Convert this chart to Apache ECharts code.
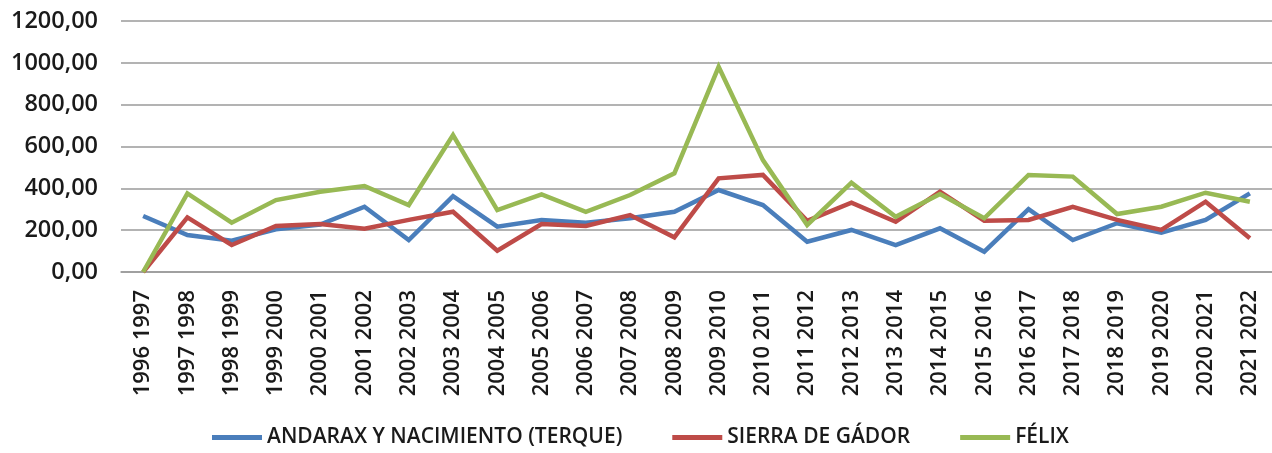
<!DOCTYPE html>
<html>
<head>
<meta charset="utf-8">
<script src="https://cdn.jsdelivr.net/npm/echarts@6/dist/echarts.min.js"></script>
<style>
  html, body { margin: 0; padding: 0; background: #fff; }
  #chart { width: 1272px; height: 453px; }
</style>
</head>
<body>
<div id="chart"></div>
<script>
// Hydrological years (campaign pairs)
const categories = [
  '1996 1997', '1997 1998', '1998 1999', '1999 2000', '2000 2001', '2001 2002',
  '2002 2003', '2003 2004', '2004 2005', '2005 2006', '2006 2007', '2007 2008',
  '2008 2009', '2009 2010', '2010 2011', '2011 2012', '2012 2013', '2013 2014',
  '2014 2015', '2015 2016', '2016 2017', '2017 2018', '2018 2019', '2019 2020',
  '2020 2021', '2021 2022'
];

const andarax = [
  268, 177, 150, 204, 227, 312, 153, 363, 217, 249, 236, 257,
  288, 392, 320, 145, 201, 129, 209, 97, 300, 153, 233, 188,
  249, 376
];

const sierraGador = [
  0, 261, 129, 220, 229, 207, 249, 288, 102, 229, 220, 272,
  166, 448, 464, 245, 331, 240, 384, 245, 249, 312, 249, 201,
  336, 161
];

const felix = [
  0, 376, 236, 344, 384, 411, 320, 655, 296, 371, 288, 368,
  472, 981, 535, 225, 427, 264, 373, 257, 464, 456, 277, 312,
  379, 336
];

const seriesNames = ['ANDARAX Y NACIMIENTO (TERQUE)', 'SIERRA DE GÁDOR', 'FÉLIX'];
const seriesColors = ['#4a7ebb', '#be4b48', '#98b954'];
const seriesData = [andarax, sierraGador, felix];

const chart = echarts.init(document.getElementById('chart'), null, { renderer: 'canvas' });

const font = '"Open Sans", "Liberation Sans", sans-serif';

chart.setOption({
  animation: false,
  backgroundColor: '#ffffff',
  textStyle: { fontFamily: font },
  grid: {
    left: 121,
    top: 21,
    width: 1153,
    bottom: 181,
    containLabel: false
  },
  legend: {
    top: 427,
    left: 212,
    padding: 0,
    icon: 'rect',
    itemWidth: 50,
    itemHeight: 5,
    itemGap: 50,
    textStyle: { fontFamily: font, fontSize: 21, fontWeight: 600, color: '#1a1a1a' },
    data: seriesNames
  },
  xAxis: {
    type: 'category',
    data: categories,
    boundaryGap: true,
    axisLine: { show: true, lineStyle: { color: '#9a9a9a', width: 1.5 } },
    axisTick: { show: false },
    axisLabel: {
      rotate: 90,
      interval: 0,
      margin: 18,
      fontFamily: font,
      fontSize: 22,
      fontWeight: 600,
      color: '#1a1a1a'
    }
  },
  yAxis: {
    type: 'value',
    min: 0,
    max: 1200,
    interval: 200,
    axisLine: { show: false },
    axisTick: { show: false },
    splitLine: { lineStyle: { color: '#9a9a9a', width: 1.5 } },
    axisLabel: {
      margin: 23,
      fontFamily: font,
      fontSize: 23.5,
      fontWeight: 600,
      color: '#1a1a1a',
      formatter: v => v.toFixed(2).replace('.', ',')
    }
  },
  series: seriesData.map((d, i) => ({
    name: seriesNames[i],
    type: 'line',
    data: d,
    showSymbol: false,
    symbol: 'none',
    color: seriesColors[i],
    lineStyle: { width: 4.5, color: seriesColors[i], join: 'miter' },
    z: 2 + i
  }))
});
</script>
</body>
</html>
